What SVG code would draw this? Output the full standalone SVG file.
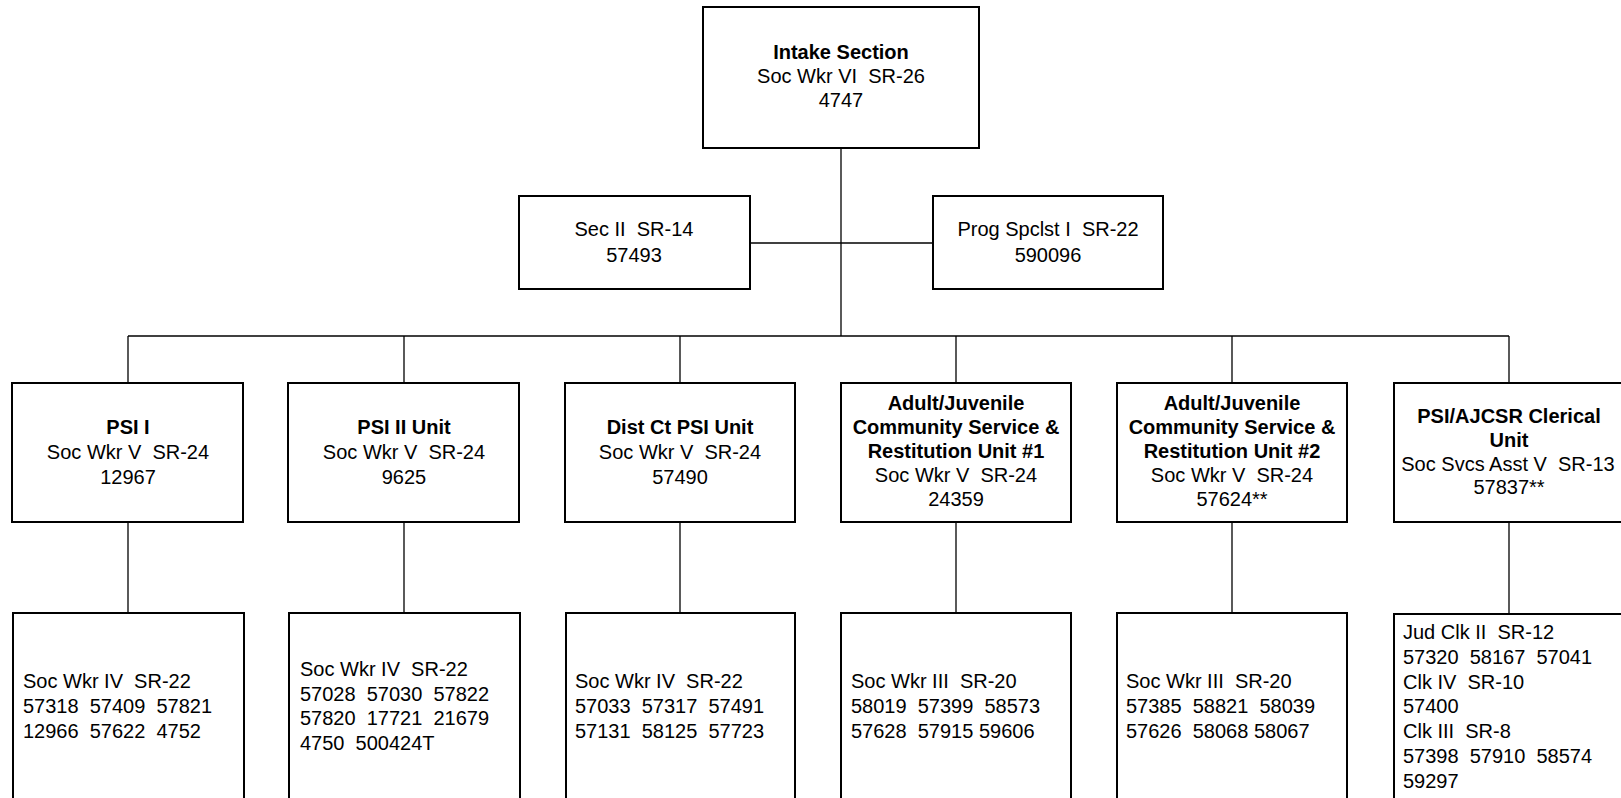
<svg xmlns="http://www.w3.org/2000/svg" width="1621" height="798" viewBox="0 0 1621 798" xml:space="preserve">
<style>
.box{fill:#fff;stroke:#000;stroke-width:2}
.t{font-family:"Liberation Sans",Arial,sans-serif;font-size:20px;fill:#000;white-space:pre}
.c{text-anchor:middle}
.b{font-weight:bold}
.conn line{stroke:#000;stroke-width:1.3}
</style>
<rect width="1621" height="798" fill="#fff"/>
<g id="connectors" class="conn">
<line x1="841" y1="148" x2="841" y2="336"/>
<line x1="750" y1="243" x2="933" y2="243"/>
<line x1="128" y1="336" x2="1509" y2="336"/>
<line x1="128" y1="336" x2="128" y2="383"/>
<line x1="404" y1="336" x2="404" y2="383"/>
<line x1="680" y1="336" x2="680" y2="383"/>
<line x1="956" y1="336" x2="956" y2="383"/>
<line x1="1232" y1="336" x2="1232" y2="383"/>
<line x1="1509" y1="336" x2="1509" y2="383"/>
<line x1="128" y1="522" x2="128" y2="613"/>
<line x1="404" y1="522" x2="404" y2="613"/>
<line x1="680" y1="522" x2="680" y2="613"/>
<line x1="956" y1="522" x2="956" y2="613"/>
<line x1="1232" y1="522" x2="1232" y2="613"/>
<line x1="1509" y1="522" x2="1509" y2="613"/>
</g>
<g id="intake">
<rect class="box" x="703" y="7" width="276" height="141"/>
<text class="t c b" x="841" y="59">Intake Section</text>
<text class="t c" x="841" y="83">Soc Wkr VI  SR-26</text>
<text class="t c" x="841" y="107">4747</text>
</g>
<g id="sec2">
<rect class="box" x="519" y="196" width="231" height="93"/>
<text class="t c" x="634" y="236">Sec II  SR-14</text>
<text class="t c" x="634" y="262">57493</text>
</g>
<g id="prog">
<rect class="box" x="933" y="196" width="230" height="93"/>
<text class="t c" x="1048" y="236">Prog Spclst I  SR-22</text>
<text class="t c" x="1048" y="262">590096</text>
</g>
<g id="psi1">
<rect class="box" x="12" y="383" width="231" height="139"/>
<text class="t c b" x="128" y="434">PSI I</text>
<text class="t c" x="128" y="459">Soc Wkr V  SR-24</text>
<text class="t c" x="128" y="484">12967</text>
</g>
<g id="psi2">
<rect class="box" x="288" y="383" width="231" height="139"/>
<text class="t c b" x="404" y="434">PSI II Unit</text>
<text class="t c" x="404" y="459">Soc Wkr V  SR-24</text>
<text class="t c" x="404" y="484">9625</text>
</g>
<g id="distct">
<rect class="box" x="565" y="383" width="230" height="139"/>
<text class="t c b" x="680" y="434">Dist Ct PSI Unit</text>
<text class="t c" x="680" y="459">Soc Wkr V  SR-24</text>
<text class="t c" x="680" y="484">57490</text>
</g>
<g id="ajcsr1">
<rect class="box" x="841" y="383" width="230" height="139"/>
<text class="t c b" x="956" y="410">Adult/Juvenile</text>
<text class="t c b" x="956" y="434">Community Service &amp;</text>
<text class="t c b" x="956" y="458">Restitution Unit #1</text>
<text class="t c" x="956" y="482">Soc Wkr V  SR-24</text>
<text class="t c" x="956" y="506">24359</text>
</g>
<g id="ajcsr2">
<rect class="box" x="1117" y="383" width="230" height="139"/>
<text class="t c b" x="1232" y="410">Adult/Juvenile</text>
<text class="t c b" x="1232" y="434">Community Service &amp;</text>
<text class="t c b" x="1232" y="458">Restitution Unit #2</text>
<text class="t c" x="1232" y="482">Soc Wkr V  SR-24</text>
<text class="t c" x="1232" y="506">57624**</text>
</g>
<g id="clerical">
<rect class="box" x="1394" y="383" width="231" height="139"/>
<text class="t c b" x="1509" y="423">PSI/AJCSR Clerical</text>
<text class="t c b" x="1509" y="447">Unit</text>
<text class="t c" x="1508" y="471">Soc Svcs Asst V  SR-13</text>
<text class="t c" x="1509" y="494">57837**</text>
</g>
<g id="psi1-staff">
<rect class="box" x="13" y="613" width="231" height="210"/>
<text class="t" x="23" y="688">Soc Wkr IV  SR-22</text>
<text class="t" x="23" y="713">57318  57409  57821</text>
<text class="t" x="23" y="738">12966  57622  4752</text>
</g>
<g id="psi2-staff">
<rect class="box" x="289" y="613" width="231" height="210"/>
<text class="t" x="300" y="676">Soc Wkr IV  SR-22</text>
<text class="t" x="300" y="701">57028  57030  57822</text>
<text class="t" x="300" y="725">57820  17721  21679</text>
<text class="t" x="300" y="750">4750  500424T</text>
</g>
<g id="distct-staff">
<rect class="box" x="566" y="613" width="229" height="210"/>
<text class="t" x="575" y="688">Soc Wkr IV  SR-22</text>
<text class="t" x="575" y="713">57033  57317  57491</text>
<text class="t" x="575" y="738">57131  58125  57723</text>
</g>
<g id="ajcsr1-staff">
<rect class="box" x="841" y="613" width="230" height="210"/>
<text class="t" x="851" y="688">Soc Wkr III  SR-20</text>
<text class="t" x="851" y="713">58019  57399  58573</text>
<text class="t" x="851" y="738">57628  57915 59606</text>
</g>
<g id="ajcsr2-staff">
<rect class="box" x="1117" y="613" width="230" height="210"/>
<text class="t" x="1126" y="688">Soc Wkr III  SR-20</text>
<text class="t" x="1126" y="713">57385  58821  58039</text>
<text class="t" x="1126" y="738">57626  58068 58067</text>
</g>
<g id="clerical-staff">
<rect class="box" x="1394" y="614" width="231" height="210"/>
<text class="t" x="1403" y="639">Jud Clk II  SR-12</text>
<text class="t" x="1403" y="664">57320  58167  57041</text>
<text class="t" x="1403" y="689">Clk IV  SR-10</text>
<text class="t" x="1403" y="713">57400</text>
<text class="t" x="1403" y="738">Clk III  SR-8</text>
<text class="t" x="1403" y="763">57398  57910  58574</text>
<text class="t" x="1403" y="788">59297</text>
</g>
</svg>
